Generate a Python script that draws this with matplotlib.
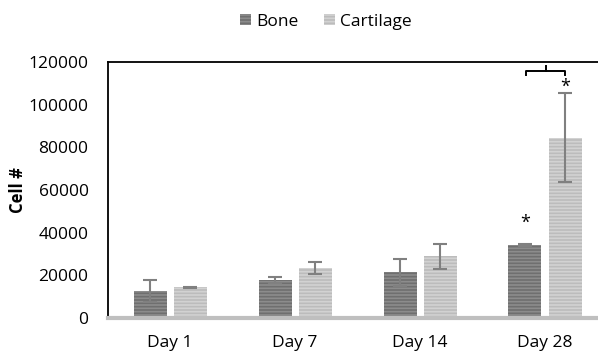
import numpy as np
from matplotlib import pyplot as plt

days = ["Day 1", "Day 7", "Day 14", "Day 28"]
bone = [12700, 17900, 21500, 34200]
bone_err = [5200, 1500, 6300, 300]
cartilage = [14400, 23400, 28900, 84600]
cartilage_err = [300, 3000, 5800, 21000]

plt.rcParams['font.family'] = ['Open Sans', 'DejaVu Sans']
plt.rcParams['hatch.linewidth'] = 1.2

fig = plt.figure(figsize=(5.98, 3.53), dpi=100)
ax = fig.add_axes([108/598, 35/353, 490/598, 256/353])

x = np.arange(len(days))
w = 0.264
b1 = ax.bar(x - 0.16, bone, w, color="#6f6f6f", edgecolor="#8c8c8c", hatch="-----",
            linewidth=0, label="Bone")
b2 = ax.bar(x + 0.16, cartilage, w, color="#bcbcbc", edgecolor="#d2d2d2", hatch="-----",
            linewidth=0, label="Cartilage")
ax.errorbar(x - 0.16, bone, yerr=bone_err, fmt="none", ecolor="#808080",
            elinewidth=1.5, capsize=5, capthick=1.5)
ax.errorbar(x + 0.16, cartilage, yerr=cartilage_err, fmt="none", ecolor="#808080",
            elinewidth=1.5, capsize=5, capthick=1.5)

# significance marks
ax.text(3 - 0.16, 44500, "*", ha="center", va="center", fontsize=13)
ax.text(3 + 0.16, 108500, "*", ha="center", va="center", fontsize=13)
bx0, bx1, by = 3 - 0.152, 3 + 0.16, 115800
ax.plot([bx0, bx0, bx1, bx1], [114000, by, by, 114000], color="black", lw=1.4)
ax.plot([3.005, 3.005], [by, 118200], color="black", lw=1.4)

ax.set_xlim(-0.496, 3.424)
ax.set_ylim(0, 120000)
ax.set_yticks(np.arange(0, 120001, 20000))
ax.set_xticks(x)
ax.set_xticklabels(days)
ax.tick_params(axis="both", length=0, labelsize=12.5)
ax.tick_params(axis="x", pad=12)
ax.tick_params(axis="y", pad=14)
ax.set_ylabel("Cell #", fontweight="bold", fontsize=12, labelpad=1)

for s in ["top", "left"]:
    ax.spines[s].set_color("black")
    ax.spines[s].set_linewidth(1.3)
ax.spines["right"].set_visible(False)
ax.spines["bottom"].set_color("#bfbfbf")
ax.spines["bottom"].set_linewidth(3)

fig.legend(handles=[b1, b2], loc="center", bbox_to_anchor=(326/598, 1 - 22/353),
           ncol=2, frameon=False, fontsize=12.5, handlelength=0.6, handleheight=0.6,
           handletextpad=0.3, columnspacing=1.5)

plt.savefig("out.png")
